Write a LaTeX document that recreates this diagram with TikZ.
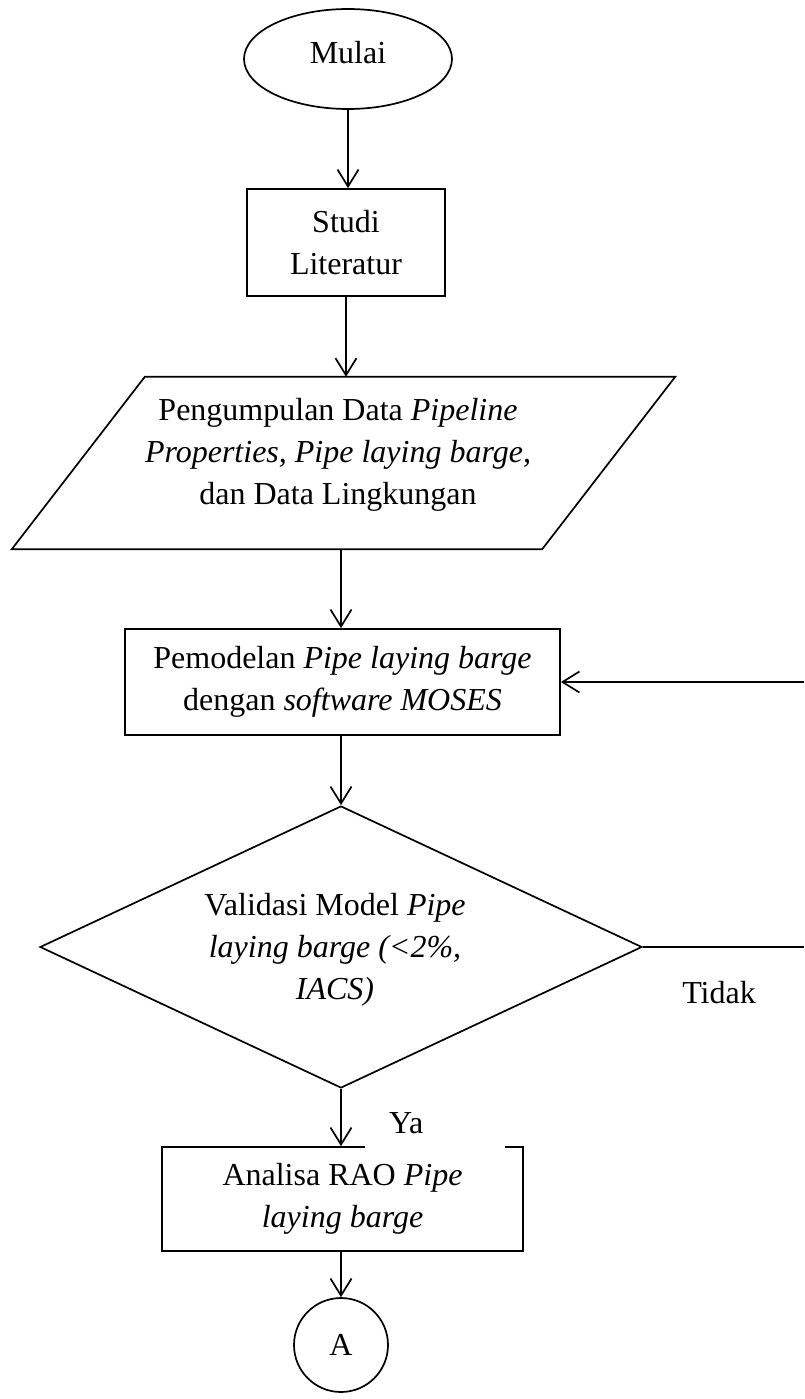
\documentclass[tikz,border=0pt]{standalone}
\usepackage{fontspec}
\setmainfont{Liberation Serif}
\usetikzlibrary{shapes.geometric,arrows.meta,calc}
\begin{document}
\begin{tikzpicture}[x=1pt,y=-1pt,
  every node/.style={font=\fontsize{32}{42}\selectfont},
  shapeline/.style={draw=black,line width=1.7pt},
  procbox/.style={shapeline,rectangle,inner sep=0pt,align=center},
  arr/.style={line width=1.7pt,-{Straight Barb[length=17pt,width=21pt,line width=1.7pt]}},
  conn/.style={line width=1.7pt},
  txt/.style={align=center,inner sep=0pt}]
\useasboundingbox (0,0) rectangle (804,1399);

\node (mulai) [shapeline, ellipse, minimum width=208pt, minimum height=100pt, inner sep=0pt, text depth=14pt] at (348,59) {Mulai};
\node (studi) [procbox, minimum width=198pt, minimum height=107pt] at (346,242.5) {Studi\\Literatur};
\node (datashape) [minimum width=663pt, minimum height=172pt, inner sep=0pt] at (343.5,463) {};
\draw[shapeline] ($(datashape.north west)+(133,0)$) -- (datashape.north east) -- ($(datashape.south east)-(133,0)$) -- (datashape.south west) -- cycle;
\node (datatext) [txt] at (338,455) {Pengumpulan Data \textit{Pipeline}\\\textit{Properties, Pipe laying barge,}\\dan Data Lingkungan};
\node (model) [procbox, minimum width=435pt, minimum height=106pt] at (342.5,682) {Pemodelan \textit{Pipe laying barge}\\dengan \textit{software MOSES}};
\node (valid) [shapeline, diamond, minimum width=602pt, minimum height=282pt, inner sep=0pt] at (341,947) {};
\node (validtext) [txt] at (335,950) {Validasi Model \textit{Pipe}\\\textit{laying barge (<2\%,}\\\textit{IACS)}};
\node (analisa) [procbox, minimum width=361pt, minimum height=104pt] at (342.5,1199) {Analisa RAO \textit{Pipe}\\\textit{laying barge}};
\node (a) [shapeline, circle, minimum size=94pt, inner sep=0pt] at (341,1345) {A};
\node (tidak) [inner sep=0pt] at (719,993) {Tidak};
\coordinate (r1) at (804,947);
\coordinate (r2) at (804,682);

\draw[arr] (mulai.south) -- (mulai.south |- studi.north);
\draw[arr] (studi.south) -- (studi.south |- datashape.north);
\draw[arr] ([xshift=-2.5pt]datashape.south) -- ([xshift=-2.5pt]datashape.south |- model.north);
\draw[arr] (valid.north |- model.south) -- (valid.north);
\draw[arr] (valid.south) -- (valid.south |- analisa.north);
\draw[arr] (a.north |- analisa.south) -- (a.north);
\draw[conn] (valid.east) -- (r1);
\draw[arr] (r2) -- (model.east);

\node (ya) [fill=white, anchor=base west, text width=92pt, inner xsep=24pt, inner ysep=0pt, text height=24pt, text depth=16pt, align=left] at (365,1133) {Ya};
\end{tikzpicture}
\end{document}
